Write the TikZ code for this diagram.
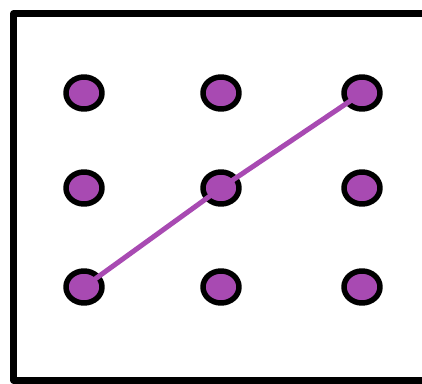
\documentclass[tikz,border=0pt]{standalone}
\usepackage{tikz}
\usetikzlibrary{shapes.geometric}
\definecolor{dotpurple}{RGB}{168,74,178}
\tikzset{
  dot/.style={ellipse, draw=black, line width=5.5pt, fill=dotpurple,
    minimum width=36pt, minimum height=32pt, inner sep=0pt},
  stroke/.style={dotpurple, line width=5pt}
}

\begin{document}
\begin{tikzpicture}[x=1pt,y=1pt,line cap=round,line join=round]
  \useasboundingbox (0,0) rectangle (422,383);
  % frame, right side runs off the page
  \draw[line width=6.5pt, line cap=rect] (13.5,2.5) rectangle (432,369.5);

  % dots, top row
  \node[dot] (d11) at (84,290) {};
  \node[dot] (d12) at (221,290) {};
  \node[dot] (d13) at (362,290) {};
  % middle row
  \node[dot] (d21) at (84,195) {};
  \node[dot] (d22) at (221,195) {};
  \node[dot] (d23) at (362,195) {};
  % bottom row
  \node[dot] (d31) at (84,96) {};
  \node[dot] (d32) at (221,96) {};
  \node[dot] (d33) at (362,96) {};

  % line
  \draw[stroke] (d31.center) -- (d22.center) -- (d13.center);
\end{tikzpicture}
\end{document}
